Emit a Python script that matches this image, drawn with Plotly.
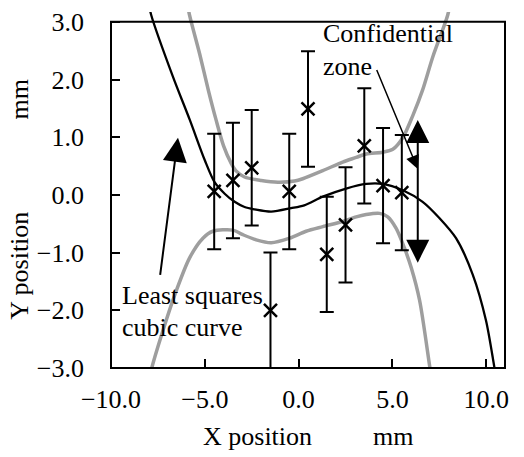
import plotly.graph_objects as go

# measured points with error bars
pos_x = [-4.5, -3.5, -2.5, -1.5, -0.5, 0.5, 1.5, 2.5, 3.5, 4.5, 5.5]
pos_y = [0.06, 0.25, 0.47, -2.0, 0.06, 1.49, -1.03, -0.52, 0.85, 0.16, 0.04]
pos_err = [1.0, 1.0, 1.0, 1.0, 1.0, 1.0, 1.0, 1.0, 1.0, 1.0, 1.0]

# least squares cubic curve
fit_x = [-8.05, -7.85, -6.7, -5.8, -5.0, -4.48, -3.94, -3.41, -2.88, -2.35, -1.46,
         -0.4, 0.3, 1.29, 2.53, 3.6, 4.48, 5.55, 6.61, 7.5, 8.39, 9.28, 9.99, 10.43, 10.6]
fit_y = [3.4, 3.11, 2.05, 1.3, 0.6, 0.22, 0.02, -0.12, -0.21, -0.25, -0.29,
         -0.23, -0.18, -0.03, 0.11, 0.19, 0.19, 0.08, -0.12, -0.4, -0.75, -1.38, -2.18, -2.98, -3.3]

# confidential zone, upper and lower limits
up_x = [-5.95, -5.81, -5.28, -4.8, -4.4, -4.0, -3.6, -3.35, -2.88, -1.99, -1.1, -0.22,
        0.22, 1.29, 2.35, 3.07, 3.6, 4.48, 5.02, 5.55, 6.08, 6.61, 7.15, 7.94, 8.1]
up_y = [3.35, 3.11, 2.45, 1.8, 1.3, 0.85, 0.55, 0.42, 0.31, 0.25, 0.22, 0.24,
        0.28, 0.42, 0.57, 0.65, 0.71, 0.74, 0.79, 0.99, 1.37, 1.82, 2.39, 3.11, 3.35]
lo_x = [-8.0, -7.85, -7.23, -6.52, -5.81, -5.1, -4.57, -3.5, -2.97, -2.26, -1.46,
        -0.48, 0.4, 1.29, 2.35, 3.07, 3.6, 4.31, 4.75, 5.2, 5.64, 6.0, 6.45, 7.0, 7.1]
lo_y = [-3.3, -3.03, -2.35, -1.66, -1.09, -0.75, -0.63, -0.61, -0.69, -0.78, -0.83,
        -0.75, -0.63, -0.55, -0.46, -0.38, -0.34, -0.32, -0.38, -0.58, -0.92, -1.26, -1.83, -3.0, -3.2]

x_ticks = [-10, -5, 0, 5, 10]
y_ticks = [-3, -2, -1, 0, 1, 2, 3]
x_range = [-10, 11]
y_range = [-3, 3.17]
frame_top = 3.0

FONT = "Liberation Serif, Times New Roman, serif"
FS = 26
GRAY = "rgb(158,158,158)"

fig = go.Figure()
for xs, ys in [(up_x, up_y), (lo_x, lo_y)]:
    fig.add_trace(go.Scatter(x=xs, y=ys, mode="lines",
                             line=dict(color=GRAY, width=3.5, shape="spline", smoothing=0.8),
                             hoverinfo="skip", showlegend=False))
fig.add_trace(go.Scatter(x=fit_x, y=fit_y, mode="lines",
                         line=dict(color="black", width=2.3, shape="spline", smoothing=0.8),
                         showlegend=False))
fig.add_trace(go.Scatter(x=pos_x, y=pos_y, mode="markers",
                         marker=dict(symbol="x-thin", size=13, line=dict(width=2.5, color="black"),
                                     color="black"),
                         error_y=dict(type="data", array=pos_err, color="black", thickness=2, width=7),
                         cliponaxis=False, showlegend=False))

axis_common = dict(showgrid=False, zeroline=False, showline=False, ticks="inside",
                   ticklen=9, tickwidth=2, tickcolor="black",
                   tickfont=dict(family=FONT, size=FS, color="black"), tickformat=".1f")
fig.update_xaxes(range=x_range, tickvals=x_ticks, ticklabelstandoff=13, **axis_common)
fig.update_yaxes(range=y_range, tickvals=y_ticks, ticklabelstandoff=26, **axis_common)

# frame
ytop_paper = (frame_top - y_range[0]) / (y_range[1] - y_range[0])
fig.add_shape(type="rect", xref="paper", yref="paper", x0=0, x1=1, y0=0, y1=ytop_paper,
              line=dict(color="black", width=2), fillcolor="rgba(0,0,0,0)")

tf = dict(family=FONT, size=FS, color="black")
ann = [
    dict(text="Confidential", x=1.2, y=2.8, xref="x", yref="y", xanchor="left", yanchor="middle"),
    dict(text="zone", x=1.2, y=2.23, xref="x", yref="y", xanchor="left", yanchor="middle"),
    dict(text="Least squares", x=-9.54, y=-1.75, xref="x", yref="y", xanchor="left", yanchor="middle"),
    dict(text="cubic curve", x=-9.54, y=-2.3, xref="x", yref="y", xanchor="left", yanchor="middle"),
    dict(text="Y position", x=-0.232, y=0.286, xref="paper", yref="paper", textangle=-90,
         xanchor="center", yanchor="middle"),
    dict(text="mm", x=-0.232, y=0.753, xref="paper", yref="paper", textangle=-90,
         xanchor="center", yanchor="middle"),
    dict(text="X position", x=0.373, y=-0.192, xref="paper", yref="paper",
         xanchor="center", yanchor="middle"),
    dict(text="mm", x=0.716, y=-0.192, xref="paper", yref="paper",
         xanchor="center", yanchor="middle"),
]
for a in ann:
    fig.add_annotation(showarrow=False, font=tf, **a)

# arrows
fig.add_annotation(text="", x=-6.43, y=0.99, ax=-7.39, ay=-1.41, xref="x", yref="y",
                   axref="x", ayref="y", showarrow=True, arrowhead=2, arrowsize=2.4,
                   arrowwidth=2, arrowcolor="black")
fig.add_annotation(text="", x=6.35, y=0.45, ax=4.13, ay=2.19, xref="x", yref="y",
                   axref="x", ayref="y", showarrow=True, arrowhead=2, arrowsize=1.8,
                   arrowwidth=1.5, arrowcolor="black")
fig.add_annotation(text="", x=6.35, y=1.3, ax=6.35, ay=-1.2, xref="x", yref="y",
                   axref="x", ayref="y", showarrow=True, arrowhead=2, arrowside="end+start",
                   arrowsize=2.3, arrowwidth=2, arrowcolor="black")

fig.update_layout(width=524, height=457, margin=dict(l=111, r=19, t=8, b=89),
                  plot_bgcolor="white", paper_bgcolor="white", showlegend=False)
fig.write_html("out.html")
